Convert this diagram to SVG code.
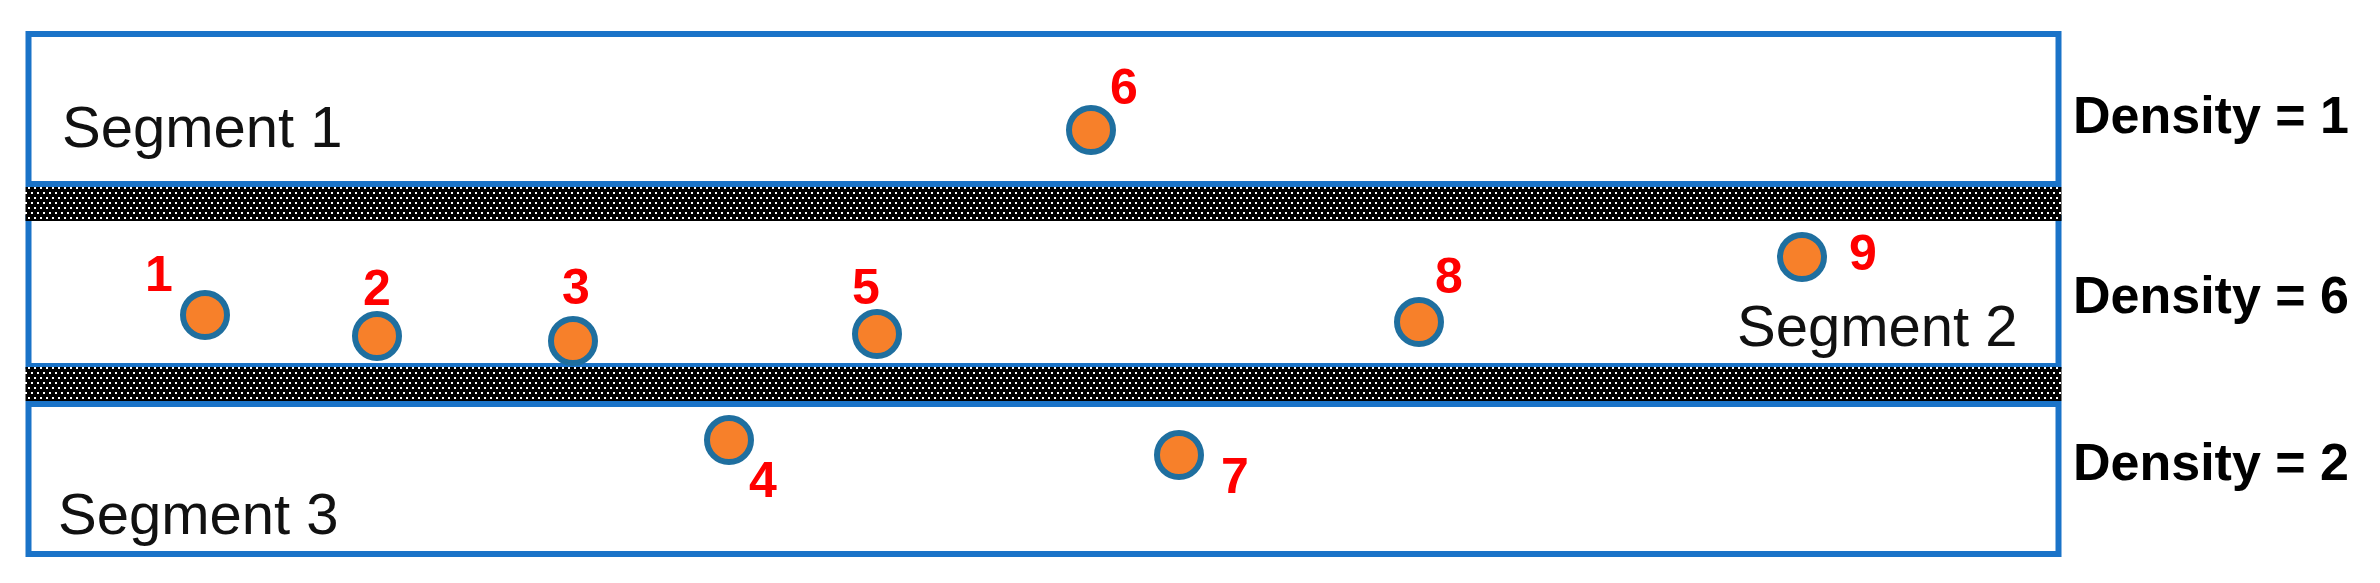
<svg xmlns="http://www.w3.org/2000/svg" width="2380" height="583" viewBox="0 0 2380 583">
<defs>
<pattern id="dots" x="0" y="0" width="6" height="10" patternUnits="userSpaceOnUse">
<rect width="6" height="10" fill="#000"/>
<rect x="1" y="2" width="2" height="2" fill="#fff"/>
<rect x="4" y="7" width="2" height="2" fill="#fff"/>
</pattern>
</defs>
<style>
.seg{fill:#fff;stroke:#1A73C8;stroke-width:6}
.hatch{fill:url(#dots)}
.pt{fill:#F7802A;stroke:#1F6F9F;stroke-width:6}
.num{font-family:"Liberation Sans",Arial,sans-serif;font-weight:bold;font-size:50px;fill:#FF0000;text-anchor:middle}
.lbl{font-family:"Liberation Sans",Arial,sans-serif;font-size:58px;fill:#111}
.den{font-family:"Liberation Sans",Arial,sans-serif;font-weight:bold;font-size:52px;fill:#000}
</style>
<rect width="2380" height="583" fill="#fff"/>
<g id="segment1">
<rect class="seg" x="28.5" y="34" width="2030" height="150"/>
<text class="lbl" x="62" y="147">Segment 1</text>
</g>
<g id="segment2">
<rect class="seg" x="28.5" y="218" width="2030" height="148"/>
<text class="lbl" x="1737" y="346">Segment 2</text>
</g>
<g id="segment3">
<rect class="seg" x="28.5" y="404" width="2030" height="150"/>
<text class="lbl" x="58" y="534">Segment 3</text>
</g>
<g id="barriers">
<rect class="hatch" x="25.5" y="187" width="2036" height="34"/>
<rect class="hatch" x="25.5" y="367" width="2036" height="34"/>
</g>
<g id="densities">
<text class="den" x="2073" y="133">Density = 1</text>
<text class="den" x="2073" y="313">Density = 6</text>
<text class="den" x="2073" y="480">Density = 2</text>
</g>
<g id="connectors"></g>
<g id="p1"><circle class="pt" cx="205" cy="315" r="22"/><text class="num" x="159" y="291">1</text></g>
<g id="p2"><circle class="pt" cx="377" cy="336" r="22"/><text class="num" x="377" y="305">2</text></g>
<g id="p3"><circle class="pt" cx="573" cy="341" r="22"/><text class="num" x="576" y="304">3</text></g>
<g id="p4"><circle class="pt" cx="729" cy="440" r="22"/><text class="num" x="763" y="497">4</text></g>
<g id="p5"><circle class="pt" cx="877" cy="334" r="22"/><text class="num" x="866" y="304">5</text></g>
<g id="p6"><circle class="pt" cx="1091" cy="130" r="22"/><text class="num" x="1124" y="104">6</text></g>
<g id="p7"><circle class="pt" cx="1179" cy="455" r="22"/><text class="num" x="1235" y="493">7</text></g>
<g id="p8"><circle class="pt" cx="1419" cy="322" r="22"/><text class="num" x="1449" y="293">8</text></g>
<g id="p9"><circle class="pt" cx="1802" cy="257" r="22"/><text class="num" x="1863" y="270">9</text></g>
</svg>
